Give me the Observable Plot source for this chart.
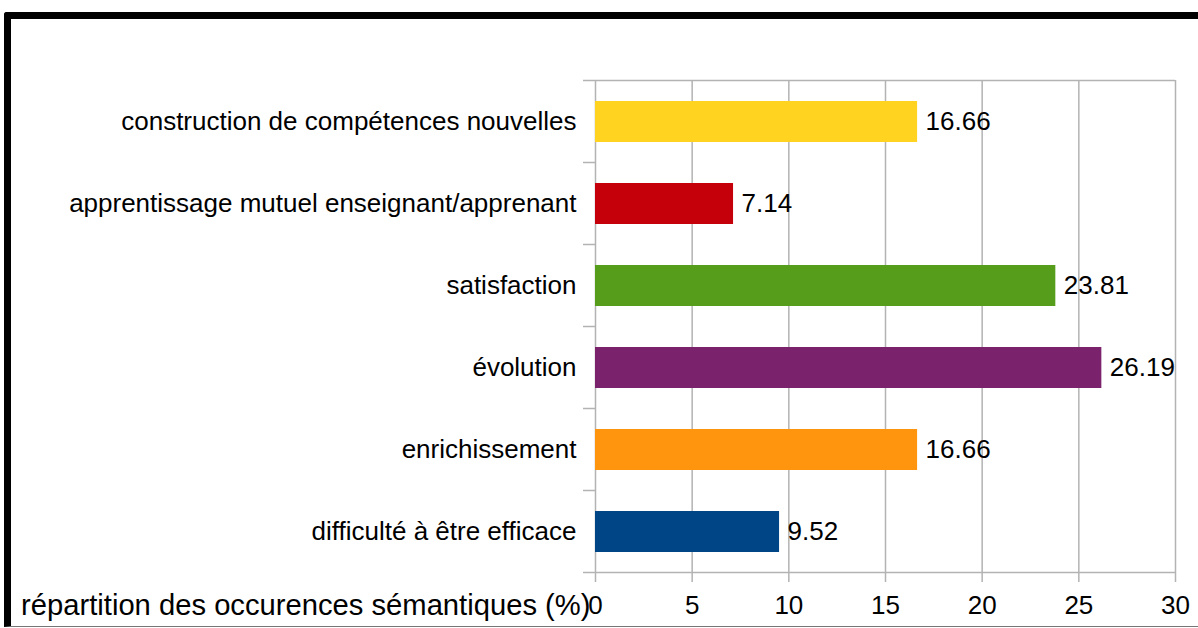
<!DOCTYPE html>
<html><head><meta charset="utf-8">
<script src="https://cdn.jsdelivr.net/npm/d3@7"></script>
<script src="https://cdn.jsdelivr.net/npm/@observablehq/plot@0.6"></script>
<style>
body{margin:0;background:#fff;overflow:hidden;width:1198px;height:628px;position:relative;font-family:"Liberation Sans",Arial,sans-serif}
#frame{position:absolute;left:4px;top:12px;width:1300px;height:607px;border-left:7px solid #000;border-top:7px solid #000;border-bottom:1px solid #777;border-top-left-radius:3px}
#chart{position:absolute;left:0;top:0}
</style></head>
<body><div id="frame"></div><div id="chart"></div>
<script>
const categories = [
  "construction de compétences nouvelles",
  "apprentissage mutuel enseignant/apprenant",
  "satisfaction",
  "évolution",
  "enrichissement",
  "difficulté à être efficace"
];
const values = [16.66, 7.14, 23.81, 26.19, 16.66, 9.52];
const colors = ["#ffd320", "#c5000b", "#579d1c", "#7a226c", "#ff950e", "#004586"];
const xTicks = [0, 5, 10, 15, 20, 25, 30];
const xLabel = "répartition des occurences sémantiques (%)";

const data = categories.map((c, i) => ({category: c, value: values[i], color: colors[i]}));
const grid = "#b3b3b3";

function boundaries(index, scales, values, dims) {
  const y = scales.y;
  const step = y.step(), half = (step - y.bandwidth()) / 2;
  const x0 = dims.marginLeft, x1 = dims.width - dims.marginRight;
  const g = d3.create("svg:g").attr("stroke", grid).attr("stroke-width", 1.5);
  const ys = categories.map(c => y(c) - half);
  ys.push(ys[ys.length - 1] + step);
  ys.forEach((yy, k) => {
    const full = k === 0 || k === ys.length - 1;
    g.append("line").attr("x1", x0 - 12).attr("x2", full ? x1 : x0)
      .attr("y1", yy).attr("y2", yy);
  });
  return g.node();
}

const chart = Plot.plot({
  width: 1198, height: 628,
  marginLeft: 595, marginRight: 23, marginTop: 80, marginBottom: 56,
  style: {fontFamily: '"Liberation Sans", Arial, sans-serif', fontSize: "26px", color: "#000", background: "transparent", overflow: "visible"},
  x: {domain: [0, 30], ticks: xTicks},
  y: {domain: categories, paddingInner: 0.5, paddingOuter: 0.25},
  marks: [
    Plot.gridX(xTicks, {stroke: grid, strokeOpacity: 1, strokeWidth: 1.5}),
    Plot.barX(data, {y: "category", x: "value", fill: d => d.color}),
    Plot.text(data, {y: "category", x: "value", text: d => d.value.toFixed(2), textAnchor: "start", dx: 8, fontSize: 26, fill: "#000"}),
    Plot.axisX(xTicks, {tickSize: 10, tickPadding: 13, stroke: grid, strokeOpacity: 1, strokeWidth: 1.5, fontSize: 26, fill: "#000", label: null}),
    Plot.axisY({tickSize: 0, tickPadding: 19, fontSize: 26, fill: "#000", label: null}),
    boundaries,
    Plot.text([xLabel], {frameAnchor: "bottom-left", textAnchor: "end", dx: -5, dy: 42, fontSize: 29.2, fill: "#000"})
  ]
});
document.getElementById("chart").appendChild(chart);
</script>
</body></html>
